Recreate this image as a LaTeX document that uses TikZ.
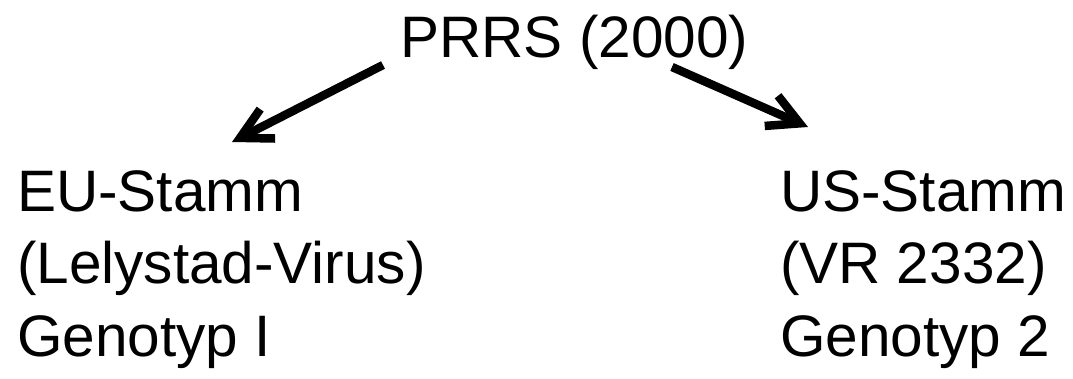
\documentclass[tikz,border=0pt]{standalone}
\usepackage{fontspec}
\setmainfont{Liberation Sans}
\usetikzlibrary{arrows.meta}
\begin{document}
\begin{tikzpicture}[x=1pt,y=-1pt,
  label/.style={inner sep=0pt,outer sep=0pt,font=\fontsize{58.5}{72.5}\selectfont,align=left},
  link/.style={line width=8.5pt,line cap=butt,
    -{Straight Barb[length=31pt,width=33pt,line width=8.5pt]}}]
  \useasboundingbox (0,0) rectangle (1073,378);
  \node[label,anchor=base west] (root) at (400.5,57) {PRRS (2000)};
  \node[label,anchor=north west] (eu) at (17,170.5) {EU-Stamm\\(Lelystad-Virus)\\Genotyp I};
  \node[label,anchor=north west] (us) at (780,170.5) {US-Stamm\\(VR 2332)\\Genotyp 2};
  \coordinate (lstart) at (383,65);
  \coordinate (lend) at (232,142);
  \coordinate (rstart) at (672,67);
  \coordinate (rend) at (808,127);
  \draw[link] (lstart) -- (lend);
  \draw[link] (rstart) -- (rend);
\end{tikzpicture}
\end{document}
